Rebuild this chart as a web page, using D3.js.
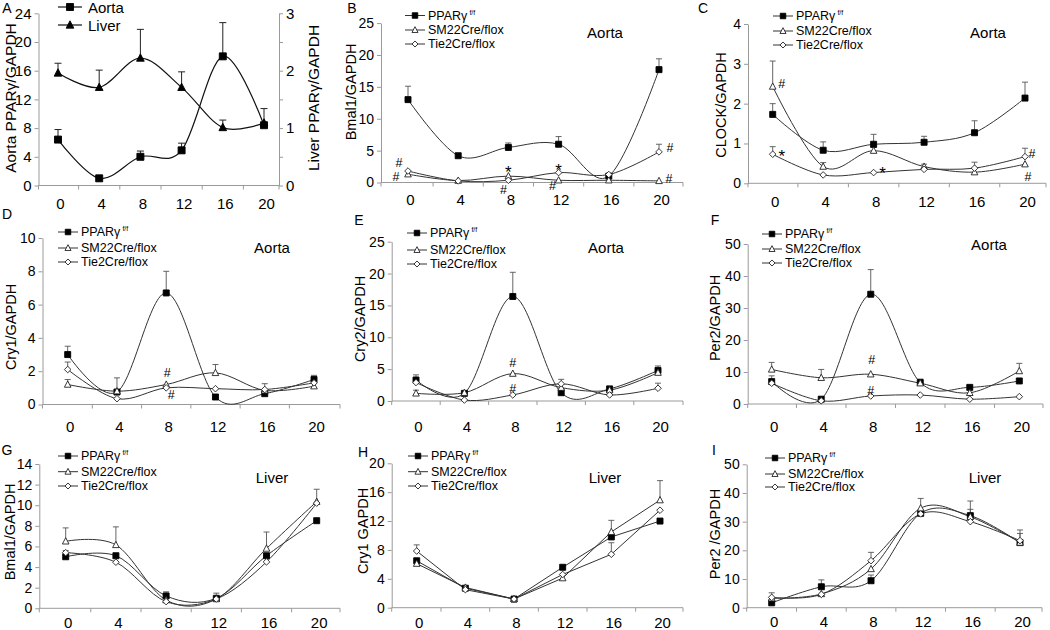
<!DOCTYPE html>
<html><head><meta charset="utf-8">
<script src="https://cdn.jsdelivr.net/npm/d3@7"></script>
<style>
body{margin:0;background:#fff}
svg{display:block}
text{font-family:"Liberation Sans",Arial,Helvetica,sans-serif;fill:#000}
</style>
</head><body>
<svg id="c" width="1050" height="630"></svg>
<script>
// ---------------- DATA ----------------
const hours = ["0","4","8","12","16","20"];
const seriesNames = ["PPARγ", "SM22Cre/flox", "Tie2Cre/flox"];
const seriesSup = ["f/f", "", ""];

// A: PPARγ expression
const aortaPparg   = [6.4, 1.0, 4.0, 4.9, 18.0, 8.4];
const aortaPpargSE = [1.4, 0, 0.8, 1.0, 4.7, 0];
const liverPparg   = [1.96, 1.71, 2.22, 1.71, 1.01, 1.09];
const liverPpargSE = [0.17, 0.30, 0.50, 0.27, 0.13, 0.25];
const leftTicksA  = [0, 4, 8, 12, 16, 20, 24];
const rightTicksA = [0, 0.5, 1, 1.5, 2, 2.5, 3];

// B: Bmal1 aorta
const bmal1AortaFF     = [13.0, 4.2, 5.5, 6.0, 1.0, 17.7];
const bmal1AortaFFSE   = [2.1, 0, 0.7, 1.2, 0, 1.7];
const bmal1AortaSM22   = [1.3, 0.3, 1.0, 0.35, 0.35, 0.25];
const bmal1AortaSM22SE = [0, 0, 0, 0, 0, 0];
const bmal1AortaTie2   = [1.8, 0.25, 0.35, 1.55, 1.25, 4.8];
const bmal1AortaTie2SE = [0, 0, 0, 0, 0, 1.2];

// C: CLOCK aorta
const clockAortaFF     = [1.73, 0.83, 0.98, 1.03, 1.27, 2.14];
const clockAortaFFSE   = [0.27, 0.21, 0.25, 0.15, 0.30, 0.40];
const clockAortaSM22   = [2.43, 0.42, 0.82, 0.42, 0.28, 0.48];
const clockAortaSM22SE = [0.64, 0.1, 0.08, 0.06, 0, 0];
const clockAortaTie2   = [0.73, 0.21, 0.27, 0.35, 0.38, 0.67];
const clockAortaTie2SE = [0.19, 0, 0, 0, 0.15, 0.21];

// D: Cry1 aorta
const cry1AortaFF     = [3.0, 0.75, 6.7, 0.45, 0.65, 1.5];
const cry1AortaFFSE   = [0.5, 0.85, 1.3, 0, 0, 0.25];
const cry1AortaSM22   = [1.2, 0.8, 1.2, 1.9, 0.85, 1.1];
const cry1AortaSM22SE = [0.3, 0, 0, 0.5, 0.4, 0];
const cry1AortaTie2   = [2.1, 0.35, 1.0, 0.95, 0.9, 1.3];
const cry1AortaTie2SE = [0.45, 0, 0, 0, 0, 0];

// E: Cry2 aorta
const cry2AortaFF     = [3.3, 1.2, 16.4, 1.3, 1.9, 4.8];
const cry2AortaFFSE   = [0.8, 0, 3.8, 0, 0, 0.7];
const cry2AortaSM22   = [1.2, 1.3, 4.3, 2.1, 1.7, 4.45];
const cry2AortaSM22SE = [0.5, 0, 0, 0, 0, 0];
const cry2AortaTie2   = [2.9, 0.15, 0.95, 2.7, 0.95, 2.0];
const cry2AortaTie2SE = [0, 0, 0, 0.7, 0, 0.8];

// F: Per2 aorta
const per2AortaFF     = [7.0, 1.5, 34.3, 6.7, 5.2, 7.2];
const per2AortaFFSE   = [1.8, 0, 7.7, 1.1, 0, 0];
const per2AortaSM22   = [10.8, 8.2, 9.3, 6.5, 3.5, 10.3];
const per2AortaSM22SE = [2.2, 2.6, 0, 0, 0, 2.4];
const per2AortaTie2   = [6.5, 1.0, 2.5, 2.8, 1.5, 2.3];
const per2AortaTie2SE = [0, 0, 0, 0, 0, 0];

// G: Bmal1 liver
const bmal1LiverFF     = [5.0, 5.1, 1.2, 0.97, 5.1, 8.5];
const bmal1LiverFFSE   = [0.6, 0, 0.4, 0.5, 0, 0];
const bmal1LiverSM22   = [6.5, 6.15, 0.8, 0.9, 5.8, 10.35];
const bmal1LiverSM22SE = [1.3, 1.75, 0, 0, 1.6, 1.2];
const bmal1LiverTie2   = [5.4, 4.47, 0.65, 0.9, 4.5, 10.2];
const bmal1LiverTie2SE = [0, 0, 0, 0, 0, 0];

// H: Cry1 liver
const cry1LiverFF     = [6.5, 2.7, 1.2, 5.6, 9.8, 12.0];
const cry1LiverFFSE   = [0, 0, 0, 0, 0, 0];
const cry1LiverSM22   = [6.1, 2.8, 1.2, 4.1, 10.5, 14.9];
const cry1LiverSM22SE = [0, 0, 0, 0, 1.6, 2.7];
const cry1LiverTie2   = [7.85, 2.5, 1.2, 4.6, 7.4, 13.5];
const cry1LiverTie2SE = [0.85, 0, 0, 0, 1.6, 0];

// I: Per2 liver
const per2LiverFF     = [1.7, 7.3, 9.4, 32.9, 32.1, 22.7];
const per2LiverFFSE   = [0, 2.4, 2.0, 0, 5.1, 3.2];
const per2LiverSM22   = [3.3, 4.8, 13.5, 34.7, 31.7, 22.7];
const per2LiverSM22SE = [1.9, 0, 0, 3.4, 2.6, 4.4];
const per2LiverTie2   = [3.6, 4.65, 16.4, 32.7, 30.0, 23.4];
const per2LiverTie2SE = [0, 0, 2.9, 0, 0, 0];

// ---------------- LAYOUT ----------------
const svg = d3.select("#c");
const AX = "#9a9a9a", LN = "#333", EB = "#555";
const smooth = d3.curveCardinal.tension(0);
const FONT = '"Liberation Sans",Arial,sans-serif';

function markerPath(type, s) {
  if (type === "tri") { return `M0,${-s*0.6}L${s*0.55},${s*0.45}L${-s*0.55},${s*0.45}Z`; }
  if (type === "dia") { return `M0,${-s*0.55}L${s*0.55},0L0,${s*0.55}L${-s*0.55},0Z`; }
  return `M${-s/2},${-s/2}h${s}v${s}h${-s}Z`;
}
function drawMarker(g, type, cx, cy, filled, s) {
  g.append("path").attr("d", markerPath(type, s)).attr("transform", `translate(${cx},${cy})`)
    .attr("fill", filled ? "#000" : "#fff").attr("stroke", filled ? "#000" : "#222").attr("stroke-width", 0.9);
}

function xAxis(g, x, cfg) {
  g.append("line").attr("x1", cfg.x0).attr("x2", cfg.x1).attr("y1", cfg.yb).attr("y2", cfg.yb).attr("stroke", AX);
  const pts = hours.map(h => x(h));
  const tx = [cfg.x0];
  for (let i = 0; i < pts.length - 1; i++) tx.push((pts[i] + pts[i+1]) / 2);
  tx.push(cfg.x1);
  tx.forEach(t => g.append("line").attr("x1", t).attr("x2", t).attr("y1", cfg.yb).attr("y2", cfg.yb + 4).attr("stroke", AX));
  const ax = g.append("g").attr("transform", `translate(0,${cfg.yb})`).call(d3.axisBottom(x).tickSize(0));
  ax.select(".domain").remove();
  ax.selectAll("text").attr("y", cfg.labelY - cfg.yb).attr("dy", "0.35em").attr("dx", 2)
    .style("font-size", "15px").style("font-family", FONT).attr("fill", "#000");
}

function yAxis(g, y, x0, ticks, fmt, right, fs) {
  const axis = (right ? d3.axisRight(y) : d3.axisLeft(y)).tickValues(ticks).tickSize(4).tickSizeOuter(0).tickPadding(3).tickFormat(fmt);
  const ag = g.append("g").attr("transform", `translate(${x0},0)`).call(axis);
  ag.select(".domain").attr("stroke", AX);
  ag.selectAll(".tick line").attr("stroke", AX);
  ag.selectAll("text").style("font-size", (fs || 14) + "px").style("font-family", FONT).attr("fill", "#000");
  return ag;
}

function vTitle(x, y, txt, size) {
  svg.append("text").attr("transform", `translate(${x},${y}) rotate(-90)`).attr("text-anchor", "middle")
    .attr("dominant-baseline", "central").style("font-size", (size || 15) + "px").text(txt);
}

// ---------------- PANEL A ----------------
(function () {
  const cfg = {x0: 38.5, x1: 279, p0: 58, p5: 264, yb: 185.5, yt: 13.3, labelY: 204};
  const g = svg.append("g");
  const x = d3.scalePoint().domain(hours).range([cfg.p0, cfg.p5]);
  const yL = d3.scaleLinear().domain([0, 24]).range([cfg.yb, cfg.yt]);
  const yR = d3.scaleLinear().domain([0, 3]).range([cfg.yb, cfg.yt]);
  yAxis(g, yL, cfg.x0, leftTicksA, d3.format("d"), false, 15);
  yAxis(g, yR, cfg.x1, rightTicksA, d => (d % 1 === 0 ? d3.format("d")(d) : ""), true, 15);
  xAxis(g, x, cfg);
  const line = (sc) => d3.line().x((d, i) => x(hours[i])).y(d => sc(d)).curve(smooth);
  [[aortaPparg, aortaPpargSE, yL, "sq"], [liverPparg, liverPpargSE, yR, "tri"]].forEach(([v, se, sc, m]) => {
    g.append("path").attr("d", line(sc)(v)).attr("fill", "none").attr("stroke", "#111").attr("stroke-width", 1.2);
    v.forEach((d, i) => {
      if (se[i] > 0) {
        const cx = x(hours[i]);
        g.append("line").attr("x1", cx).attr("x2", cx).attr("y1", sc(d)).attr("y2", sc(d + se[i])).attr("stroke", "#222");
        g.append("line").attr("x1", cx - 3.5).attr("x2", cx + 3.5).attr("y1", sc(d + se[i])).attr("y2", sc(d + se[i])).attr("stroke", "#222");
      }
    });
    v.forEach((d, i) => drawMarker(g, m, x(hours[i]), sc(d), true, 7));
  });
  vTitle(10, 98, "Aorta PPARγ/GAPDH", 15.5);
  vTitle(313, 98, "Liver PPARγ/GAPDH", 15.5);
  svg.append("text").attr("x", 7).attr("y", 8).attr("text-anchor", "middle").attr("dominant-baseline", "central").style("font-size", "14px").text("A");
  // legend
  [["Aorta", "sq", 7], ["Liver", "tri", 25]].forEach(([t, m, yy]) => {
    g.append("line").attr("x1", 58).attr("x2", 82).attr("y1", yy).attr("y2", yy).attr("stroke", "#111").attr("stroke-width", 1.2);
    drawMarker(g, m, 70, yy, true, 7);
    g.append("text").attr("x", 88).attr("y", yy + 0.5).attr("dominant-baseline", "central").style("font-size", "15px").text(t);
  });
})();

// ---------------- PANELS B-I ----------------
const panels = [
  {letter: "B", lp: [352, 8], title: "Bmal1/GAPDH", tp: [351, 92], region: "Aorta", rp: [605, 32],
   vals: [bmal1AortaFF, bmal1AortaSM22, bmal1AortaTie2], ses: [bmal1AortaFFSE, bmal1AortaSM22SE, bmal1AortaTie2SE],
   yMax: 25, yStep: 5, x0: 381, x1: 683, p0: 408, p5: 659, yb: 182.5, yt: 23.1, labelY: 200,
   leg: {x: 405, ys: [15.5, 30, 44]}, curve: smooth,
   marks: [["#", 0, 3.05, -9], ["#", 0, 0.86, -12], ["*", 2, 2.3, 0], ["#", 2, -1.2, -5], ["*", 3, 2.6, 0], ["#", 3, -0.5, -6], ["#", 5, 5.4, 11], ["#", 5, 0.55, 10]]},
  {letter: "C", lp: [703, 8], title: "CLOCK/GAPDH", tp: [721, 105], region: "Aorta", rp: [988, 32],
   vals: [clockAortaFF, clockAortaSM22, clockAortaTie2], ses: [clockAortaFFSE, clockAortaSM22SE, clockAortaTie2SE],
   yMax: 4, yStep: 1, x0: 748, x1: 1046, p0: 772.7, p5: 1025, yb: 183.3, yt: 24, labelY: 201.5,
   leg: {x: 773, ys: [16, 31, 45]}, curve: smooth,
   marks: [["#", 0, 2.5, 9], ["*", 0, 0.81, 9], ["*", 2, 0.38, 9], ["#", 5, 0.73, 7], ["#", 5, 0.16, 3]]},
  {letter: "D", lp: [7, 214], title: "Cry1/GAPDH", tp: [11, 327], region: "Aorta", rp: [272, 247],
   vals: [cry1AortaFF, cry1AortaSM22, cry1AortaTie2], ses: [cry1AortaFFSE, cry1AortaSM22SE, cry1AortaTie2SE],
   yMax: 10, yStep: 2, x0: 42.5, x1: 340, p0: 67.7, p5: 314, yb: 404.5, yt: 238, labelY: 426.5,
   leg: {x: 58, ys: [232, 248, 262]}, curve: smooth,
   marks: [["#", 2, 1.9, 1], ["#", 2, 0.57, 5]]},
  {letter: "E", lp: [359, 220], title: "Cry2/GAPDH", tp: [360, 319], region: "Aorta", rp: [606, 247],
   vals: [cry2AortaFF, cry2AortaSM22, cry2AortaTie2], ses: [cry2AortaFFSE, cry2AortaSM22SE, cry2AortaTie2SE],
   yMax: 25, yStep: 5, x0: 391.7, x1: 683, p0: 416, p5: 658, yb: 401, yt: 241.7, labelY: 426.5,
   leg: {x: 407, ys: [233, 250, 264]}, curve: smooth,
   marks: [["#", 2, 6.0, 0], ["#", 2, 1.9, 0]]},
  {letter: "F", lp: [715, 220], title: "Per2/GAPDH", tp: [715, 318], region: "Aorta", rp: [989, 244],
   vals: [per2AortaFF, per2AortaSM22, per2AortaTie2], ses: [per2AortaFFSE, per2AortaSM22SE, per2AortaTie2SE],
   yMax: 50, yStep: 10, x0: 747.7, x1: 1043, p0: 771.7, p5: 1019.3, yb: 404, yt: 244, labelY: 426.5,
   leg: {x: 762, ys: [234, 249, 263]}, curve: smooth,
   marks: [["#", 2, 13.75, 1], ["#", 2, 4.1, 0]]},
  {letter: "G", lp: [7, 450], title: "Bmal1/GAPDH", tp: [10, 532], region: "Liver", rp: [272, 477],
   vals: [bmal1LiverFF, bmal1LiverSM22, bmal1LiverTie2], ses: [bmal1LiverFFSE, bmal1LiverSM22SE, bmal1LiverTie2SE],
   yMax: 14, yStep: 2, x0: 39.3, x1: 340, p0: 65.7, p5: 316.7, yb: 608.3, yt: 464, labelY: 623,
   leg: {x: 58, ys: [456, 471.7, 486]}, curve: smooth, marks: []},
  {letter: "H", lp: [363, 452], title: "Cry1 GAPDH", tp: [363, 531], region: "Liver", rp: [605, 477],
   vals: [cry1LiverFF, cry1LiverSM22, cry1LiverTie2], ses: [cry1LiverFFSE, cry1LiverSM22SE, cry1LiverTie2SE],
   yMax: 20, yStep: 4, x0: 391.7, x1: 683, p0: 416.7, p5: 660, yb: 607.7, yt: 463.3, labelY: 623,
   leg: {x: 408, ys: [456, 471.7, 486]}, curve: d3.curveLinear, marks: []},
  {letter: "I", lp: [714, 450], title: "Per2 /GAPDH", tp: [715, 534], region: "Liver", rp: [985, 477],
   vals: [per2LiverFF, per2LiverSM22, per2LiverTie2], ses: [per2LiverFFSE, per2LiverSM22SE, per2LiverTie2SE],
   yMax: 50, yStep: 10, x0: 746.7, x1: 1042, p0: 771.7, p5: 1020, yb: 607.7, yt: 464.3, labelY: 621.7,
   leg: {x: 765, ys: [458, 474, 487]}, curve: smooth, marks: []}
];
const mtypes = ["sq", "tri", "dia"];

panels.forEach(cfg => {
  const g = svg.append("g");
  const x = d3.scalePoint().domain(hours).range([cfg.p0, cfg.p5]);
  const y = d3.scaleLinear().domain([0, cfg.yMax]).range([cfg.yb, cfg.yt]);
  yAxis(g, y, cfg.x0, d3.range(0, cfg.yMax + 1e-9, cfg.yStep), d3.format("d"), false, 14);
  xAxis(g, x, cfg);
  const line = d3.line().x((d, i) => x(hours[i])).y(d => y(d)).curve(cfg.curve);
  cfg.vals.forEach(v => g.append("path").attr("d", line(v)).attr("fill", "none").attr("stroke", LN).attr("stroke-width", 1));
  cfg.vals.forEach((v, k) => v.forEach((d, i) => {
    const se = cfg.ses[k][i];
    if (se > 0) {
      const cx = x(hours[i]);
      g.append("line").attr("x1", cx).attr("x2", cx).attr("y1", y(d)).attr("y2", y(d + se)).attr("stroke", EB).attr("stroke-width", 0.9);
      g.append("line").attr("x1", cx - 3).attr("x2", cx + 3).attr("y1", y(d + se)).attr("y2", y(d + se)).attr("stroke", EB).attr("stroke-width", 0.9);
    }
  }));
  cfg.vals.forEach((v, k) => v.forEach((d, i) => drawMarker(g, mtypes[k], x(hours[i]), y(d), k === 0, 6)));
  cfg.marks.forEach(([t, ci, val, dx]) => {
    const isStar = t === "*";
    g.append("text").attr("x", x(hours[ci]) + dx).attr("y", y(val) + (isStar ? 5 : 0)).attr("text-anchor", "middle")
      .attr("dominant-baseline", "central").style("font-size", isStar ? "17px" : "12.5px").attr("fill", isStar ? "#666" : "#000").text(t);
  });
  // legend
  cfg.leg.ys.forEach((yy, k) => {
    g.append("line").attr("x1", cfg.leg.x).attr("x2", cfg.leg.x + 20).attr("y1", yy).attr("y2", yy).attr("stroke", LN);
    drawMarker(g, mtypes[k], cfg.leg.x + 10, yy, k === 0, 5.5);
    const t = g.append("text").attr("x", cfg.leg.x + 23).attr("y", yy).attr("dominant-baseline", "central").style("font-size", "12.5px");
    t.append("tspan").text(seriesNames[k]);
    if (seriesSup[k]) t.append("tspan").attr("dx", 2).attr("dy", -4).style("font-size", "7px").text(seriesSup[k]);
  });
  g.append("text").attr("x", cfg.rp[0]).attr("y", cfg.rp[1]).attr("text-anchor", "middle").attr("dominant-baseline", "central").style("font-size", "15px").text(cfg.region);
  vTitle(cfg.tp[0], cfg.tp[1], cfg.title, 14.5);
  svg.append("text").attr("x", cfg.lp[0]).attr("y", cfg.lp[1]).attr("text-anchor", "middle").attr("dominant-baseline", "central").style("font-size", "14px").text(cfg.letter);
});
</script>
</body></html>
